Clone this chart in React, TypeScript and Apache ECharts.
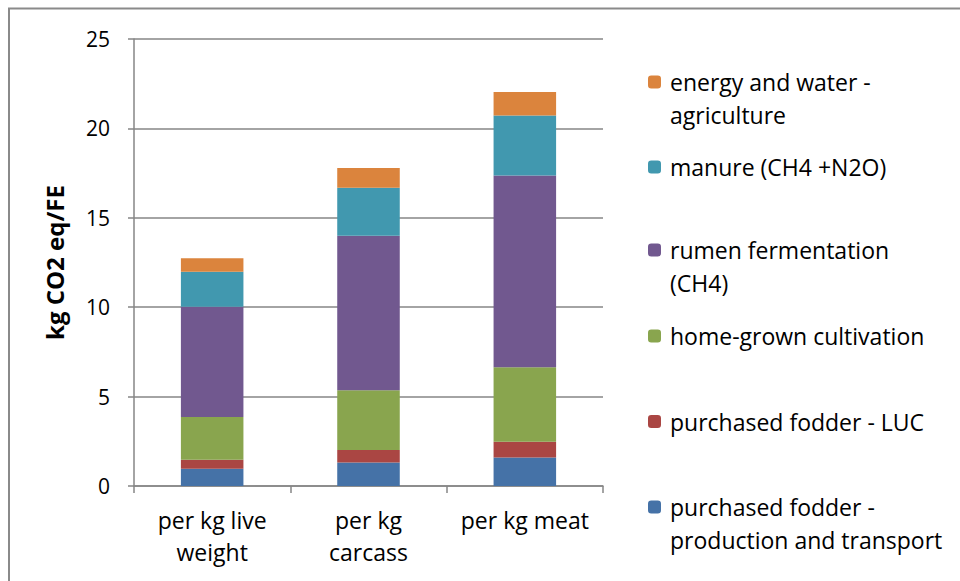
import React, { useEffect, useRef } from "react";
import * as echarts from "echarts";

// Categories on the x axis
const categories = ["per kg live\nweight", "per kg\ncarcass", "per kg meat"];

// Emission sources, bottom of the stack first
const seriesNames = [
  "purchased fodder - production and transport",
  "purchased fodder - LUC",
  "home-grown cultivation",
  "rumen fermentation (CH4)",
  "manure (CH4 +N2O)",
  "energy and water - agriculture",
];

// Legend wording (wrapped like the chart's legend)
const legendLabels = [
  "purchased fodder -\nproduction and transport",
  "purchased fodder - LUC",
  "home-grown cultivation",
  "rumen fermentation\n(CH4)",
  "manure (CH4 +N2O)",
  "energy and water -\nagriculture",
];

// kg CO2 eq per functional unit, one array per source
const fodderProduction = [0.97, 1.32, 1.6];
const fodderLuc = [0.5, 0.69, 0.88];
const homeGrown = [2.39, 3.35, 4.16];
const rumen = [6.16, 8.64, 10.73];
const manure = [1.96, 2.68, 3.35];
const energyWater = [0.76, 1.11, 1.31];

const seriesValues = [fodderProduction, fodderLuc, homeGrown, rumen, manure, energyWater];

const colors = ["#4572A7", "#AA4643", "#89A54E", "#71588F", "#4198AF", "#DB843D"];

// y axis ticks
const yMin = 0;
const yMax = 25;
const yStep = 5;

const FONT = "'Open Sans', 'Noto Sans', sans-serif";
const GRAY = "#868686";

export default function App() {
  const ref = useRef<HTMLDivElement>(null);

  useEffect(() => {
    if (!ref.current) return;
    const chart = echarts.init(ref.current, undefined, { renderer: "svg" });

    // legend entries listed top to bottom: last series first
    const legendRows = [5, 4, 3, 2, 1, 0];
    const rowCenters = [82, 167, 250, 336, 421.5, 507];

    const legends = legendRows.map((si, row) => {
      const multi = legendLabels[si].includes("\n");
      return {
        data: [seriesNames[si]],
        orient: "vertical",
        left: 648,
        top: rowCenters[row] - (multi ? 49.5 : 16.5),
        padding: 0,
        itemWidth: 13,
        itemHeight: 13,
        selectedMode: false,
        // a blank leading line keeps the marker level with the first text line
        formatter: () => (multi ? "\n" : "") + legendLabels[si],
        textStyle: {
          fontFamily: FONT,
          fontSize: 23,
          color: "#000",
          lineHeight: 33,
          padding: [0, 0, 0, 4],
        },
      };
    });

    chart.setOption({
      animation: false,
      backgroundColor: "#fff",
      color: colors,
      textStyle: { fontFamily: FONT },
      grid: { left: 134, right: 357, top: 39, bottom: 95, containLabel: false },
      legend: legends,
      graphic: [
        {
          type: "rect",
          shape: { x: 9, y: 8.5, width: 1200, height: 1200 },
          style: { fill: "none", stroke: "#8a8a8a", lineWidth: 2 },
          silent: true,
        },
      ],
      xAxis: {
        type: "category",
        data: categories,
        axisLine: { lineStyle: { color: GRAY, width: 1.5 } },
        axisTick: { show: true, length: 7, lineStyle: { color: GRAY, width: 1.5 } },
        axisLabel: {
          color: "#000",
          fontSize: 23,
          fontFamily: FONT,
          lineHeight: 32,
          margin: 18,
          interval: 0,
        },
      },
      yAxis: {
        type: "value",
        min: yMin,
        max: yMax,
        interval: yStep,
        name: "kg CO2 eq/FE",
        nameLocation: "middle",
        nameRotate: 90,
        nameGap: 68,
        nameTextStyle: { color: "#000", fontSize: 24, fontWeight: "bold", fontFamily: FONT },
        axisLine: { show: true, lineStyle: { color: GRAY, width: 1.5 } },
        axisTick: { show: true, length: 6, lineStyle: { color: GRAY, width: 1.5 } },
        axisLabel: { color: "#000", fontSize: 21, fontFamily: FONT, margin: 24 },
        splitLine: { lineStyle: { color: GRAY, width: 1.5 } },
      },
      series: seriesNames.map((name, i) => ({
        name,
        type: "bar",
        stack: "total",
        barWidth: "40%",
        data: seriesValues[i],
        itemStyle: { color: colors[i] },
      })),
    });

    return () => chart.dispose();
  }, []);

  return (
    <div
      ref={ref}
      style={{ position: "absolute", left: 0, top: 0, width: 960, height: 581 }}
    />
  );
}
